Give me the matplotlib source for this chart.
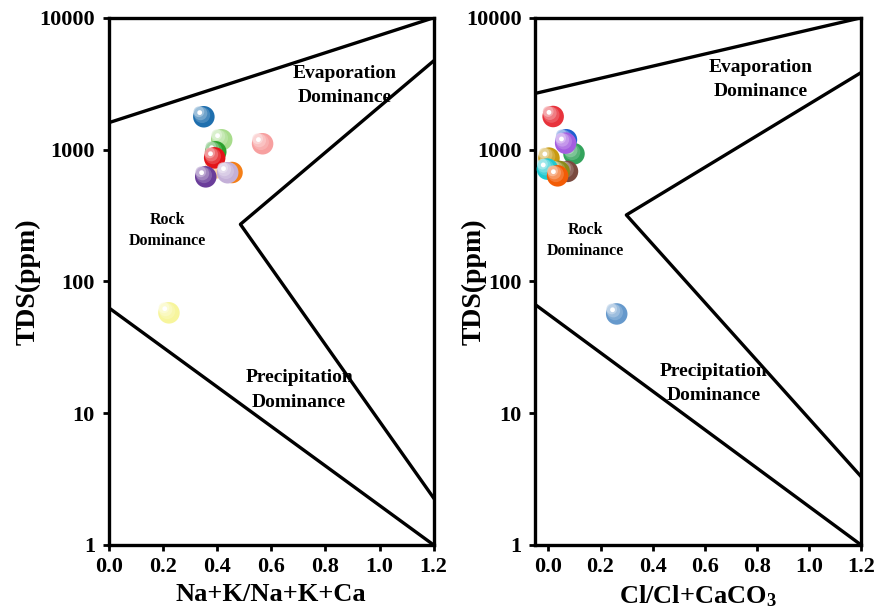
import matplotlib
matplotlib.use("Agg")
import matplotlib.pyplot as plt
from matplotlib.transforms import offset_copy
from matplotlib.colors import to_rgb
import numpy as np

plt.rcParams['font.family'] = ['Liberation Serif', 'DejaVu Serif']
plt.rcParams['font.weight'] = 'bold'
plt.rcParams['mathtext.fontset'] = 'custom'
plt.rcParams['mathtext.rm'] = 'Liberation Serif:bold'
plt.rcParams['mathtext.default'] = 'rm'

# Sample data: cation ratio vs TDS
cat_ratio = [0.351, 0.417, 0.568, 0.395, 0.395, 0.391, 0.455, 0.439, 0.358, 0.222]
cat_tds = [1774, 1186, 1107, 961, 726, 865, 670, 667, 621, 57.7]
cat_colors = ['#1f6fae', '#a8dc8c', '#f7a0a0', '#2ca02c', '#f9c990', '#e3141a',
              '#f57f17', '#c4b0d8', '#6a3d9a', '#f7f59c']

# Sample data: anion ratio vs TDS
an_ratio = [0.018, 0.069, 0.098, 0.066, 0.002, 0.073, 0.041, -0.004, 0.035, 0.262]
an_tds = [1782, 1186, 929, 1119, 861, 683, 683, 711, 632, 56.6]
an_colors = ['#e8333c', '#1f5fd0', '#33a35c', '#a45ee0', '#c89a10', '#7a4a3f',
             '#8a8a1a', '#20c8d0', '#f25c05', '#6699cc']

# Gibbs boundary curves
cat_upper_x = [0.0, 1.2]
cat_upper_y = [1600, 10000]
cat_right_x = [1.2, 0.486, 1.2]
cat_right_y = [4710, 271, 2.27]
cat_lower_x = [0.0, 1.2]
cat_lower_y = [63, 1.0]

an_upper_x = [-0.05, 1.2]
an_upper_y = [2670, 10000]
an_right_x = [1.2, 0.299, 1.2]
an_right_y = [3840, 319, 3.3]
an_lower_x = [-0.05, 1.2]
an_lower_y = [66.5, 1.0]

yticks = [1, 10, 100, 1000, 10000]
xticks = [0.0, 0.2, 0.4, 0.6, 0.8, 1.0, 1.2]


def glossy(ax, x, y, colors, size=240):
    # shaded ball: base colour, lighter core towards upper-left, white glint
    for xi, yi, c in zip(x, y, colors):
        base = np.array(to_rgb(c))
        ax.scatter([xi], [yi], s=size, color=base, edgecolors='none', zorder=4)
        for k, f in enumerate([0.25, 0.45, 0.65]):
            tr = offset_copy(ax.transData, fig=ax.figure, x=-1.2 * (k + 1), y=1.2 * (k + 1), units='points')
            col = base + (1 - base) * f
            ax.scatter([xi], [yi], s=size * (0.55 - 0.15 * k), color=col, edgecolors='none',
                       alpha=0.7, transform=tr, zorder=4)
        tr = offset_copy(ax.transData, fig=ax.figure, x=-3.0, y=3.0, units='points')
        ax.scatter([xi], [yi], s=size * 0.05, color='white', edgecolors='none', transform=tr, zorder=4)


def style(ax, xlim, xlabel, ylabel_x):
    ax.set_yscale('log')
    ax.set_ylim(1, 10000)
    ax.set_xlim(*xlim)
    ax.set_yticks(yticks)
    ax.set_yticklabels([str(v) for v in yticks])
    ax.minorticks_off()
    ax.set_xticks(xticks)
    ax.set_xticklabels([f'{v:.1f}' for v in xticks])
    ax.tick_params(axis='both', direction='out', length=4, width=2, labelsize=16)
    ax.tick_params(axis='x', pad=5)
    ax.tick_params(axis='y', pad=6)
    for s in ax.spines.values():
        s.set_linewidth(2.4)
    ax.set_ylabel('TDS(ppm)', fontsize=20, fontweight='bold')
    ax.yaxis.set_label_coords(ylabel_x, 0.5)
    ax.set_xlabel(xlabel, fontsize=19, fontweight='bold', labelpad=4)


fig = plt.figure(figsize=(8.85, 6.13), dpi=100)
ax1 = fig.add_axes([0.123, 0.111, 0.367, 0.860])
ax2 = fig.add_axes([0.605, 0.111, 0.368, 0.860])

lw = 2.4
for ax, ux, uy, rx, ry, lx, ly in [
        (ax1, cat_upper_x, cat_upper_y, cat_right_x, cat_right_y, cat_lower_x, cat_lower_y),
        (ax2, an_upper_x, an_upper_y, an_right_x, an_right_y, an_lower_x, an_lower_y)]:
    ax.plot(ux, uy, color='black', lw=lw, zorder=2)
    ax.plot(rx, ry, color='black', lw=lw, zorder=2)
    ax.plot(lx, ly, color='black', lw=lw, zorder=2)

glossy(ax1, cat_ratio, cat_tds, cat_colors)
glossy(ax2, an_ratio, an_tds, an_colors)

style(ax1, (0.0, 1.2), 'Na+K/Na+K+Ca', -0.21)
style(ax2, (-0.05, 1.2), 'Cl/Cl+CaCO$_3$', -0.15)

big = dict(ha='center', va='center', fontweight='bold', fontsize=14, linespacing=1.55, zorder=5)
small = dict(ha='center', va='center', fontweight='bold', fontsize=11.5, linespacing=1.4, zorder=5)
ax1.text(0.87, 3060, 'Evaporation\nDominance', **big)
ax1.text(0.2175, 243, 'Rock\nDominance', **small)
ax1.text(0.703, 15.0, 'Precipitation\nDominance', **big)
ax2.text(0.814, 3420, 'Evaporation\nDominance', **big)
ax2.text(0.141, 205, 'Rock\nDominance', **small)
ax2.text(0.633, 16.8, 'Precipitation\nDominance', **big)

fig.savefig('out.png', dpi=100)
